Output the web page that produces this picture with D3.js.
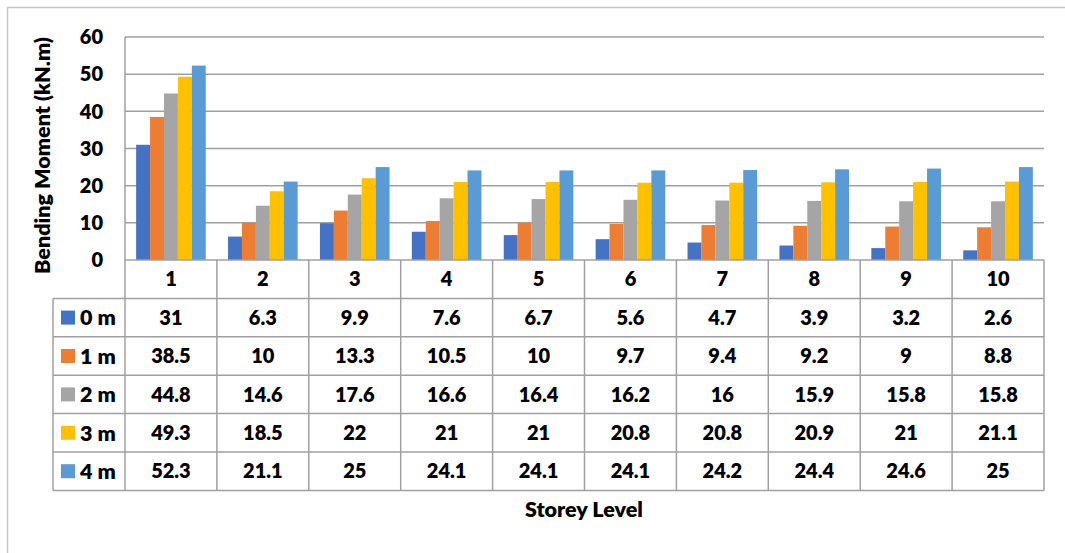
<!DOCTYPE html>
<html>
<head>
<meta charset="utf-8">
<script src="https://cdn.jsdelivr.net/npm/d3@7"></script>
<style>
  body { margin: 0; background: #fff; }
  text { font-family: Lato, "Open Sans", sans-serif; font-weight: 800; fill: #000; }
</style>
</head>
<body>
<svg width="1065" height="553"></svg>
<script>
const storeys = ["1", "2", "3", "4", "5", "6", "7", "8", "9", "10"];
const seriesNames = ["0 m", "1 m", "2 m", "3 m", "4 m"];
const colors = ["#4472C4", "#ED7D31", "#A5A5A5", "#FFC000", "#5B9BD5"];
const m0 = [31, 6.3, 9.9, 7.6, 6.7, 5.6, 4.7, 3.9, 3.2, 2.6];
const m1 = [38.5, 10, 13.3, 10.5, 10, 9.7, 9.4, 9.2, 9, 8.8];
const m2 = [44.8, 14.6, 17.6, 16.6, 16.4, 16.2, 16, 15.9, 15.8, 15.8];
const m3 = [49.3, 18.5, 22, 21, 21, 20.8, 20.8, 20.9, 21, 21.1];
const m4 = [52.3, 21.1, 25, 24.1, 24.1, 24.1, 24.2, 24.4, 24.6, 25];
const yTicks = [0, 10, 20, 30, 40, 50, 60];

const values = [m0, m1, m2, m3, m4];
const series = seriesNames.map((name, i) => ({ name, color: colors[i], vals: values[i] }));

const svg = d3.select("svg");
const plot = { left: 125, right: 1044, top: 37, bottom: 260 };
const rowH = 38.4;
const tableLeft = 53;
const gridColor = "#a0a0a0";
const numSize = "20px", txtSize = "21.5px";

// outer frame (only left and top visible)
svg.append("path")
  .attr("d", "M7.5,553 V7.5 H1065")
  .attr("fill", "none").attr("stroke", "#c6c6c6").attr("stroke-width", 1.5);

const x = d3.scaleBand().domain(storeys).range([plot.left, plot.right]);
const xs = d3.scaleBand().domain(seriesNames).range([0, x.bandwidth()]).paddingOuter(0.8);
const y = d3.scaleLinear().domain([0, 60]).range([plot.bottom, plot.top]);

// gridlines
svg.append("g").selectAll("line").data(yTicks.slice(1)).join("line")
  .attr("x1", plot.left).attr("x2", plot.right)
  .attr("y1", d => y(d)).attr("y2", d => y(d))
  .attr("stroke", gridColor).attr("stroke-width", 1.5);

// left plot edge
svg.append("line")
  .attr("x1", plot.left).attr("x2", plot.left)
  .attr("y1", plot.top).attr("y2", plot.bottom)
  .attr("stroke", gridColor).attr("stroke-width", 1.5);

// y tick labels
svg.append("g").selectAll("text").data(yTicks).join("text")
  .attr("x", 103).attr("y", d => y(d))
  .attr("dy", "0.36em").attr("text-anchor", "end")
  .style("font-size", numSize)
  .text(d => d);

// bars
series.forEach(s => {
  svg.append("g").selectAll("rect").data(s.vals).join("rect")
    .attr("x", (d, i) => x(storeys[i]) + xs(s.name))
    .attr("width", xs.bandwidth())
    .attr("y", d => y(d))
    .attr("height", d => y(0) - y(d))
    .attr("fill", s.color);
});

// data table
const tableBottom = plot.bottom + rowH * 6;
const tg = svg.append("g").attr("stroke", gridColor).attr("stroke-width", 1.5);
tg.append("line").attr("x1", plot.left).attr("x2", plot.right)
  .attr("y1", plot.bottom).attr("y2", plot.bottom);
d3.range(1, 7).forEach(r => {
  tg.append("line").attr("x1", tableLeft).attr("x2", plot.right)
    .attr("y1", plot.bottom + r * rowH).attr("y2", plot.bottom + r * rowH);
});
tg.append("line").attr("x1", tableLeft).attr("x2", tableLeft)
  .attr("y1", plot.bottom + rowH).attr("y2", tableBottom);
storeys.forEach(c => {
  tg.append("line").attr("x1", x(c)).attr("x2", x(c))
    .attr("y1", plot.bottom).attr("y2", tableBottom);
});
tg.append("line").attr("x1", plot.right).attr("x2", plot.right)
  .attr("y1", plot.bottom).attr("y2", tableBottom);

// category labels
svg.append("g").selectAll("text").data(storeys).join("text")
  .attr("x", d => x(d) + x.bandwidth() / 2)
  .attr("y", plot.bottom + rowH / 2)
  .attr("dy", "0.36em").attr("text-anchor", "middle")
  .style("font-size", numSize)
  .text(d => d);

// table rows
series.forEach((s, r) => {
  const cy = plot.bottom + rowH * (r + 1) + rowH / 2;
  svg.append("rect")
    .attr("x", 61).attr("y", cy - 7).attr("width", 14).attr("height", 14)
    .attr("fill", s.color);
  svg.append("text")
    .attr("x", 80).attr("y", cy).attr("dy", "0.36em")
    .style("font-size", txtSize)
    .text(s.name);
  svg.append("g").selectAll("text").data(s.vals).join("text")
    .attr("x", (d, i) => x(storeys[i]) + x.bandwidth() / 2)
    .attr("y", cy).attr("dy", "0.36em").attr("text-anchor", "middle")
    .style("font-size", numSize)
    .text(d => d);
});

// axis titles
svg.append("text")
  .attr("transform", "translate(42,155.5) rotate(-90)")
  .attr("dy", "0.36em").attr("text-anchor", "middle")
  .style("font-size", txtSize)
  .text("Bending Moment (kN.m)");

svg.append("text")
  .attr("x", 584).attr("y", 509)
  .attr("dy", "0.36em").attr("text-anchor", "middle")
  .style("font-size", txtSize)
  .text("Storey Level");
</script>
</body>
</html>
